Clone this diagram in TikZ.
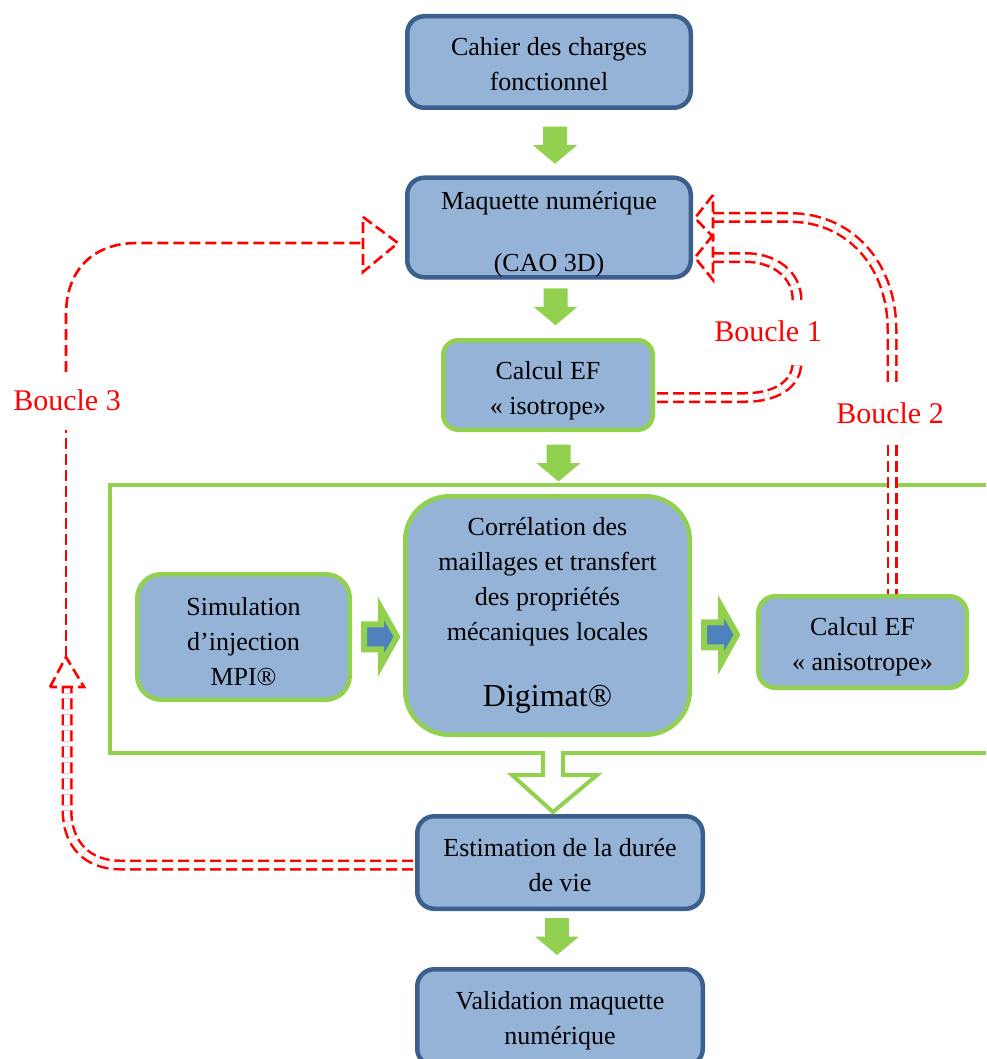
\documentclass[tikz,border=0pt]{standalone}
\usepackage{fontspec}
\setmainfont{Liberation Serif}
\usetikzlibrary{calc}
\definecolor{boxfill}{HTML}{95B3D7}
\definecolor{boxdark}{HTML}{3C5F8E}
\definecolor{boxgreen}{HTML}{92D050}
\definecolor{arrblue}{HTML}{4F81BD}
\newcommand\tpad[1]{\rule{0pt}{#1}}
\tikzset{
  basebox/.style={draw, fill=boxfill, line width=4.5pt, align=center,
    font=\fontsize{26}{35}\selectfont, inner sep=0pt},
  bluebox/.style={basebox, draw=boxdark},
  greenbox/.style={basebox, draw=boxgreen},
  loopline/.style={draw=red, line width=2.6pt, dash pattern=on 11pt off 5pt},
  loopdouble/.style={draw=red, line width=2.5pt, double=white, double distance=6pt,
    dash pattern=on 11pt off 5pt},
  looplabel/.style={text=red, font=\fontsize{30}{36}\selectfont, inner sep=2pt},
  greendown/.pic={\fill[boxgreen] (-12,-18.5) -- (12,-18.5) -- (12,0) -- (22,0)
     -- (0,18.5) -- (-22,0) -- (-12,0) -- cycle;},
  greenright/.pic={\draw[boxgreen, fill=arrblue, line width=6pt]
     (-17,-12.5) -- (0,-12.5) -- (0,-28.5) -- (16,0) -- (0,28.5) -- (0,12.5)
     -- (-17,12.5) -- cycle;},
}
\begin{document}
\begin{tikzpicture}[x=1pt,y=-1pt]
\useasboundingbox (0,0) rectangle (986,1059);
\clip (0,0) rectangle (986,1059);

% group frame
\node[draw=boxgreen, line width=4.5pt, outer sep=0pt, inner sep=0pt,
      minimum width=890pt, minimum height=268pt, anchor=north west] (grp) at (110,485) {};

% boxes
\node[bluebox, rounded corners=17pt, minimum width=283.5pt, minimum height=91.5pt] (cdc) at (549,62)
  {\tpad{22pt}Cahier des charges\\fonctionnel};
\node[bluebox, rounded corners=17pt, minimum width=283.5pt, minimum height=98.5pt] (maq) at (549,227.5)
  {\tpad{32pt}Maquette numérique\\[27pt](CAO 3D)};
\node[greenbox, rounded corners=15pt, minimum width=209.5pt, minimum height=89.5pt] (iso) at (548,385)
  {\tpad{30pt}Calcul EF\\« isotrope»};
\node[greenbox, rounded corners=24pt, minimum width=212.5pt, minimum height=125.5pt] (sim) at (243.5,637)
  {\tpad{28pt}Simulation\\d’injection\\MPI®};
\node[greenbox, rounded corners=44pt, minimum width=284.5pt, minimum height=238.5pt] (cor) at (547.5,615.5)
  {Corrélation des\\maillages et transfert\\des propriétés\\mécaniques locales\\[31pt]{\fontsize{32}{38}\selectfont Digimat®}};
\node[greenbox, rounded corners=17pt, minimum width=208.5pt, minimum height=91.5pt] (ani) at (862.5,642)
  {\tpad{28pt}Calcul EF\\« anisotrope»};
\node[bluebox, rounded corners=17pt, minimum width=285.5pt, minimum height=92.5pt] (est) at (560,862.5)
  {\tpad{24pt}Estimation de la durée\\de vie};
\node[bluebox, rounded corners=17pt, minimum width=285.5pt, minimum height=96.5pt] (val) at (560,1017.5)
  {\tpad{24pt}Validation maquette\\numérique};

% green block arrows
\pic at ($(cdc.south)!0.5!(maq.north)+(6,2.5)$) {greendown};
\pic at ($(maq.south)!0.5!(iso.north)+(7,-2)$) {greendown};
\pic at ($(iso.south)!0.5!(grp.north)+(7,4.5)$) {greendown};
\pic at ($(est.south)!0.5!(val.north)+(-3,-2.5)$) {greendown};
\pic at ($(sim.east)!0.5!(cor.west)+(3.5,10.5)$) {greenright};
\pic at ($(cor.east)!0.5!(ani.west)+(-3,6)$) {greenright};

% hollow arrow from group to estimation
\fill[white] (545,748) -- (545,775) -- (512,775) -- (553,812) -- (597,775) -- (561,775) -- (561,748) -- cycle;
\draw[boxgreen, line width=4pt] ($(grp.south)+(-12,-2)$) coordinate (h1) -- (543,775) -- (512,775)
   -- ($(est.north)+(-7,-2)$) -- (597,775) -- (563,775) -- (563,753);

% Boucle 1
\draw[loopdouble] ($(iso.east)+(2,12.5)$) -- (745,397.5) .. controls (775,397.5) and (797,385) .. (797,362);
\draw[loopdouble] (797,300) .. controls (797,275) and (775,257.5) .. (745,257.5) -- ($(maq.east)+(20,30)$);
\draw[loopline] ($(maq.east)+(20,7.5)$) -- ($(maq.east)+(2,30)$) -- ($(maq.east)+(20,52.5)$) -- cycle;
\node[looplabel] (l1) at (768,331) {Boucle 1};

% Boucle 2
\draw[loopdouble] ($(maq.east)+(20,-10)$) -- (790,217.5) .. controls (850,217.5) and (892,265) .. (892,330) -- (892,385);
\draw[loopdouble] (892,445) -- ($(ani.north)+(29.5,0)$);
\draw[loopline] ($(maq.east)+(20,-32.5)$) -- ($(maq.east)+(2,-9.5)$) -- ($(maq.east)+(20,9.5)$) -- cycle;
\node[looplabel] (l2) at (890,413) {Boucle 2};

% Boucle 3
\draw[loopdouble] ($(est.west)+(-2,2.5)$) -- (120,865) .. controls (88,865) and (67,845) .. (67,810) -- (67,687);
\draw[loopline] (50,687) -- (66,657) -- (84,687) -- cycle;
\draw[loopline] (66,657) -- (66,430);
\draw[loopline] (66,372) -- (66,315) .. controls (66,268) and (95,243) .. (137,243) -- ($(maq.west)+(-42,15.5)$);
\draw[loopline] ($(maq.west)+(-42,-10.5)$) -- ($(maq.west)+(-7,15.5)$) -- ($(maq.west)+(-42,44.5)$) -- cycle;
\node[looplabel] (l3) at (67,400) {Boucle 3};
\end{tikzpicture}
\end{document}
